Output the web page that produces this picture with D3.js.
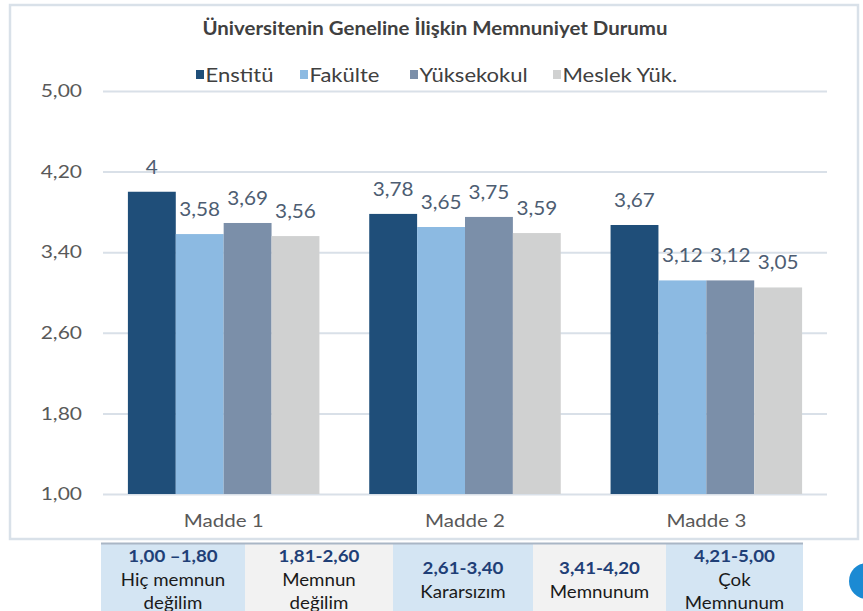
<!DOCTYPE html>
<html><head><meta charset="utf-8">
<script src="https://cdn.jsdelivr.net/npm/d3@7/dist/d3.min.js"></script>
<style>
html,body{margin:0;padding:0;background:#fff;}
svg{display:block;font-family:Lato,"Open Sans",sans-serif;}
</style></head>
<body>
<svg id="chart" width="863" height="611"></svg>
<script>
const title = "Üniversitenin Geneline İlişkin Memnuniyet Durumu";
const categories = ["Madde 1", "Madde 2", "Madde 3"];
const seriesNames = ["Enstitü", "Fakülte", "Yüksekokul", "Meslek Yük."];
const enstitu = [4, 3.78, 3.67];
const fakulte = [3.58, 3.65, 3.12];
const yuksekokul = [3.69, 3.75, 3.12];
const meslek = [3.56, 3.59, 3.05];
const yTicks = [1.00, 1.80, 2.60, 3.40, 4.20, 5.00];
const seriesColors = ["#1f4e79", "#8cbae2", "#7b8fa9", "#d0d1d1"];
const scaleRanges = ["1,00 –1,80", "1,81-2,60", "2,61-3,40", "3,41-4,20", "4,21-5,00"];
const scaleLabels = [["Hiç memnun","değilim"], ["Memnun","değilim"], ["Kararsızım"], ["Memnunum"], ["Çok","Memnunum"]];
const scaleFills = ["#d4e5f3", "#f2f2f2", "#d4e5f3", "#f2f2f2", "#d4e5f3"];

const seriesValues = [enstitu, fakulte, yuksekokul, meslek];
const svg = d3.select("#chart");

// horizontal stretch helper (reference text is wide-set)
function stretch(sel, k) {
  sel.each(function() {
    const w = this.getComputedTextLength();
    d3.select(this).attr("textLength", w * k).attr("lengthAdjust", "spacingAndGlyphs");
  });
}

// chart frame
svg.append("rect").attr("x", 10).attr("y", 5).attr("width", 848).attr("height", 534)
  .attr("fill", "#fff").attr("stroke", "#d9e1e9").attr("stroke-width", 2.5);

// title
const tt = svg.append("text").attr("x", 435).attr("y", 35).attr("text-anchor", "middle")
  .attr("font-size", 18).attr("font-weight", "bold").attr("fill", "#404040").text(title);
tt.attr("textLength", 465).attr("lengthAdjust", "spacingAndGlyphs");

// legend
const legendX = [196, 300, 410, 553];
const lg = svg.append("g");
seriesNames.forEach((n, i) => {
  lg.append("rect").attr("x", legendX[i]).attr("y", 70).attr("width", 8).attr("height", 9).attr("fill", seriesColors[i]);
  lg.append("text").attr("class", "lgt").attr("x", legendX[i] + 9.5).attr("y", 81.5).attr("font-size", 18.5).attr("fill", "#404040").text(n);
});
stretch(lg.selectAll("text.lgt"), 1.19);

// scales
const y = d3.scaleLinear().domain([1, 5]).range([494, 91]);
const x0 = d3.scaleBand().domain(categories).range([103, 827]).paddingInner(0).paddingOuter(0);
const x1 = d3.scaleBand().domain(seriesNames).range([0, x0.bandwidth()]).paddingInner(0).paddingOuter(0.52);

const fmt = v => String(v).replace(".", ",");
const tickFmt = v => d3.format(".2f")(v).replace(".", ",");

// grid + y axis
const yAxis = d3.axisLeft(y).tickValues(yTicks).tickSize(-(827 - 103)).tickPadding(21).tickFormat(tickFmt);
const ga = svg.append("g").attr("transform", "translate(103,0)").call(yAxis);
ga.select(".domain").remove();
ga.selectAll(".tick line").attr("stroke", "#d9e0e8").attr("stroke-width", 2);
ga.selectAll(".tick text").attr("font-size", 17.5).attr("fill", "#595959").attr("font-family", "Lato,sans-serif");
stretch(ga.selectAll(".tick text"), 1.2);

// bars
const groups = svg.append("g").selectAll("g").data(categories).join("g")
  .attr("transform", d => `translate(${x0(d)},0)`);
groups.each(function(cat, ci) {
  const g = d3.select(this);
  seriesNames.forEach((s, si) => {
    const v = seriesValues[si][ci];
    g.append("rect").attr("x", x1(s)).attr("width", x1.bandwidth())
      .attr("y", y(v)).attr("height", y(1) - y(v)).attr("fill", seriesColors[si]);
    g.append("text").attr("class", "dl").attr("x", x1(s) + x1.bandwidth() / 2).attr("y", y(v) - 18)
      .attr("text-anchor", "middle").attr("font-size", 18.5).attr("fill", "#4d5d72").text(fmt(v));
  });
});
stretch(groups.selectAll("text.dl"), 1.12);

// x axis labels
const xAxis = d3.axisBottom(x0).tickSize(0).tickPadding(20);
const gx = svg.append("g").attr("transform", "translate(0,494)").call(xAxis);
gx.select(".domain").remove();
gx.selectAll(".tick text").attr("font-size", 18).attr("fill", "#595959").attr("font-family", "Lato,sans-serif");
stretch(gx.selectAll(".tick text"), 1.14);

// scale table
const cellX = [101, 245, 393, 533, 666, 803];
const tbl = svg.append("g");
scaleRanges.forEach((r, i) => {
  tbl.append("rect").attr("x", cellX[i]).attr("y", 543).attr("width", cellX[i+1] - cellX[i]).attr("height", 70).attr("fill", scaleFills[i]);
  const lines = [r].concat(scaleLabels[i]);
  const startY = lines.length === 3 ? 562 : 574;
  lines.forEach((t, li) => {
    tbl.append("text").attr("class", "tb").attr("x", (cellX[i] + cellX[i+1]) / 2).attr("y", startY + li * 23.5)
      .attr("text-anchor", "middle").attr("font-size", 17)
      .attr("font-weight", li === 0 ? "bold" : "normal")
      .attr("fill", li === 0 ? "#1f3f77" : "#1a1a1a").text(t);
  });
});
stretch(tbl.selectAll("text.tb"), 1.1);
tbl.append("line").attr("x1", 101).attr("x2", 803).attr("y1", 543.5).attr("y2", 543.5).attr("stroke", "#a9b6c5").attr("stroke-width", 2);

// page badge
svg.append("circle").attr("cx", 867).attr("cy", 581).attr("r", 18).attr("fill", "#1b8ad3");
svg.append("text").attr("x", 862).attr("y", 588).attr("font-size", 18).attr("font-weight", "bold").attr("fill", "#fff").text("1");
</script>
</body></html>
